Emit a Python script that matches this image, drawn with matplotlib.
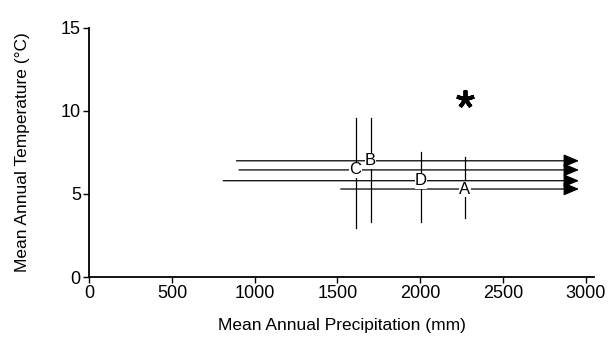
import matplotlib.pyplot as plt

# site ranges: precipitation (horizontal, open-ended -> arrow) and temperature (vertical)
sites = ["A", "B", "C", "D"]
precip_mean = [2270, 1700, 1610, 2005]
precip_min = [1520, 890, 905, 810]
precip_max = [2960, 2960, 2960, 2960]
temp_mean = [5.3, 7.0, 6.45, 5.8]
temp_min = [3.55, 3.3, 2.95, 3.3]
temp_max = [7.2, 9.6, 9.6, 7.5]

star_x = [2270]
star_y = [10.7]

plt.rcParams["font.family"] = ["Liberation Sans", "DejaVu Sans"]

fig = plt.figure(figsize=(6.11, 3.37), dpi=100)
ax = fig.add_axes([0.146, 0.178, 0.826, 0.739])

for i, s in enumerate(sites):
    ax.plot([precip_mean[i], precip_mean[i]], [temp_min[i], temp_max[i]],
            color="black", lw=0.9)
    ax.annotate("", xy=(precip_max[i], temp_mean[i]), xytext=(precip_min[i], temp_mean[i]),
                arrowprops=dict(arrowstyle="-|>,head_length=0.95,head_width=0.4",
                                color="black", lw=0.9, shrinkA=0, shrinkB=0))
    ax.text(precip_mean[i], temp_mean[i], s, ha="center", va="center", fontsize=12,
            bbox=dict(facecolor="white", edgecolor="none", pad=0.3))

ax.plot(star_x, star_y, marker=(5, 2, 0), markersize=13, color="black",
        markeredgewidth=2.8, linestyle="none")

ax.set_xlim(0, 3050)
ax.set_ylim(0, 15)
ax.set_xticks([0, 500, 1000, 1500, 2000, 2500, 3000])
ax.set_yticks([0, 5, 10, 15])
ax.spines["top"].set_visible(False)
ax.spines["right"].set_visible(False)
ax.spines["left"].set_linewidth(1.3)
ax.spines["bottom"].set_linewidth(1.3)
ax.tick_params(direction="out", length=4, width=1, labelsize=13, pad=2)
ax.set_xlabel("Mean Annual Precipitation (mm)", fontsize=12.5, labelpad=11)
ax.set_ylabel("Mean Annual Temperature (°C)", fontsize=12.5, labelpad=22)

fig.savefig("out.png", dpi=100)
